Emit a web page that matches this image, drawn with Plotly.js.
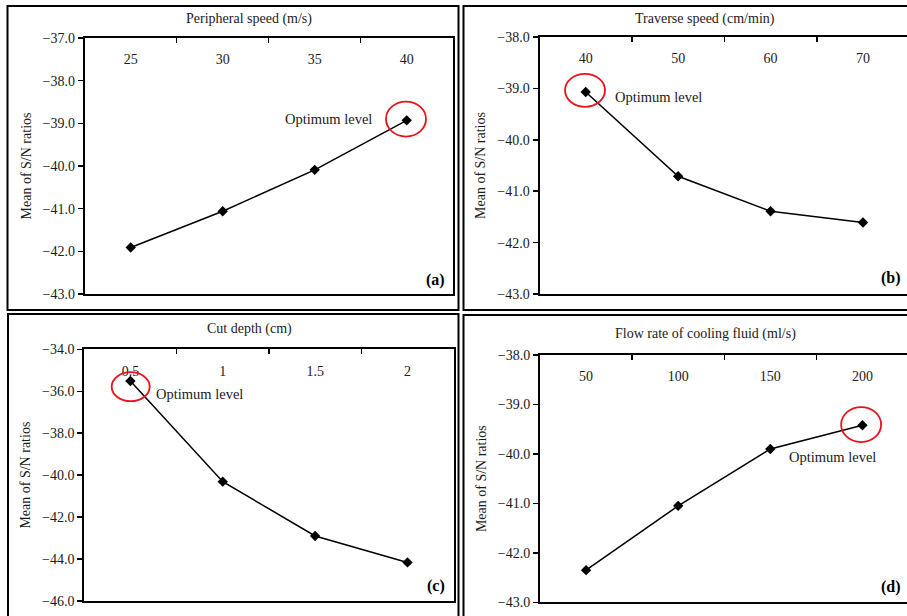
<!DOCTYPE html>
<html>
<head>
<meta charset="utf-8">
<script src="https://cdn.plot.ly/plotly-3.0.1.min.js"></script>
<style>
html, body { margin:0; padding:0; overflow:hidden; width:907px; height:616px; background:#fff; }
#chart { width:920px; height:630px; }
</style>
</head>
<body>
<div id="chart"></div>
<script>
// ---- data ----
const speedLevels = ['25', '30', '35', '40'];
const speedSN = [-41.91, -41.06, -40.09, -38.93];

const traverseLevels = ['40', '50', '60', '70'];
const traverseSN = [-39.07, -40.71, -41.39, -41.61];

const depthLevels = ['0.5', '1', '1.5', '2'];
const depthSN = [-35.51, -40.31, -42.90, -44.16];

const flowLevels = ['50', '100', '150', '200'];
const flowSN = [-42.35, -41.05, -39.90, -39.42];

const factorTitles = ['Peripheral speed (m/s)', 'Traverse speed (cm/min)', 'Cut depth (cm)', 'Flow rate of cooling fluid (ml/s)'];
const panelLabels = ['(a)', '(b)', '(c)', '(d)'];
const yTitle = 'Mean of S/N ratios';
const optimumText = 'Optimum level';

// ---- layout helpers ----
const W = 920, H = 630;
const PX = p => p / W;
const PY = p => 1 - p / H;
const FONT = 'Liberation Serif, Times New Roman, serif';
const TXT = '#1a1a1a';

const levels = [speedLevels, traverseLevels, depthLevels, flowLevels];
const values = [speedSN, traverseSN, depthSN, flowSN];
const optIdx = [3, 0, 0, 3];

const panels = [
  {x:[84.7, 452.7], y:[38, 294], yr:[-43, -37], dt:1, title:[248.5, 19], lab:[447, 280], opt:{x:374, y:119, xa:'right'}, circ:{dx:-0.7, dy:1.3, rx:20, ry:17.5}, frame:[7.5, 6, 458.5, 310]},
  {x:[539.5, 909.2], y:[37, 294], yr:[-43, -38], dt:1, title:[705, 19.3], lab:[903, 278], opt:{x:612.7, y:96.7, xa:'left'}, circ:{dx:-0.7, dy:1.7, rx:20, ry:16.5}, frame:[463.5, 6, 940, 310]},
  {x:[84.2, 453.7], y:[349.3, 601], yr:[-46, -34], dt:2, title:[249.5, 329.3], lab:[447, 586], opt:{x:154, y:394.3, xa:'left'}, circ:{dx:0.3, dy:-5.7, rx:19, ry:14.5}, frame:[8, 314, 458.5, 660]},
  {x:[540, 908.5], y:[355, 602.3], yr:[-43, -38], dt:1, title:[705.8, 334.3], lab:[903, 586.7], opt:{x:877.7, y:457.3, xa:'right'}, circ:{dx:-1.3, dy:0.7, rx:20, ry:17.5}, frame:[463.5, 315, 940, 660]}
];
const LABEL_DROP = 29; // px from top axis line down to the baseline axis of the category labels

const data = [];
const layout = {
  width: W, height: H,
  margin: {l:0, r:0, t:0, b:0},
  paper_bgcolor: '#fff', plot_bgcolor: '#fff',
  showlegend: false,
  font: {family: FONT, size: 14, color: TXT},
  annotations: [], shapes: []
};

panels.forEach((p, i) => {
  const n = i === 0 ? '' : String(i + 1);
  const xa = 'x' + n, ya = 'y' + n;
  const ln = String(i + 5), xl = 'x' + ln;
  data.push({
    type: 'scatter', mode: 'lines+markers',
    x: levels[i], y: values[i],
    xaxis: xa, yaxis: ya,
    line: {color: '#000', width: 1.5},
    marker: {symbol: 'diamond', size: 8, color: '#000'},
    hoverinfo: 'x+y'
  });
  // carrier (invisible) so the label axis gets the same categories
  data.push({
    type: 'scatter', mode: 'markers',
    x: levels[i], y: values[i],
    xaxis: xl, yaxis: ya,
    marker: {size: 1, opacity: 0},
    hoverinfo: 'skip'
  });
  // main category axis (top line, boundary ticks)
  layout['xaxis' + n] = {
    domain: [PX(p.x[0]), PX(p.x[1])], anchor: ya,
    type: 'category', categoryarray: levels[i], side: 'top', range: [-0.5, 3.5],
    showline: true, linewidth: 2, linecolor: '#000', mirror: true,
    ticks: 'inside', ticklen: 5, tickwidth: 1.5, tickcolor: '#000',
    tickson: 'boundaries', showticklabels: false,
    showgrid: false, zeroline: false, fixedrange: true
  };
  // label-only axis: category labels drawn just below the top line
  layout['xaxis' + ln] = {
    overlaying: xa, anchor: 'free', position: PY(p.y[0] + LABEL_DROP), side: 'top',
    type: 'category', categoryarray: levels[i], range: [-0.5, 3.5],
    showline: false, ticks: '', showgrid: false, zeroline: false,
    tickfont: {family: FONT, size: 14, color: TXT}, fixedrange: true
  };
  layout['yaxis' + n] = {
    domain: [PY(p.y[1]), PY(p.y[0])], anchor: xa,
    range: p.yr, tickmode: 'linear', tick0: p.yr[0], dtick: p.dt, tickformat: '.1f',
    showline: true, linewidth: 2, linecolor: '#000', mirror: true,
    ticks: 'outside', ticklen: 5, tickwidth: 1.5, tickcolor: '#000',
    showgrid: false, zeroline: false,
    tickfont: {family: FONT, size: 14, color: TXT},
    title: {text: yTitle, font: {family: FONT, size: 14, color: TXT}, standoff: 8},
    fixedrange: true
  };
  // factor title
  layout.annotations.push({xref:'paper', yref:'paper', x:PX(p.title[0]), y:PY(p.title[1]),
    xanchor:'center', yanchor:'middle', showarrow:false, text:factorTitles[i],
    font:{family:FONT, size:14, color:TXT}});
  // panel label
  layout.annotations.push({xref:'paper', yref:'paper', x:PX(p.lab[0]), y:PY(p.lab[1]),
    xanchor:'right', yanchor:'middle', showarrow:false, text:'<b>' + panelLabels[i] + '</b>',
    font:{family:FONT, size:16, color:'#000'}});
  // optimum text
  layout.annotations.push({xref:'paper', yref:'paper', x:PX(p.opt.x), y:PY(p.opt.y),
    xanchor:p.opt.xa, yanchor:'middle', showarrow:false, text:optimumText,
    font:{family:FONT, size:14.5, color:TXT}});
  // red circle around optimum point (category index as anchor)
  const k = optIdx[i];
  layout.shapes.push({type:'circle', xref:xa, yref:ya, xsizemode:'pixel', ysizemode:'pixel',
    xanchor: k, yanchor: values[i][k],
    x0: p.circ.dx - p.circ.rx, x1: p.circ.dx + p.circ.rx,
    y0: p.circ.dy - p.circ.ry, y1: p.circ.dy + p.circ.ry,
    line:{color:'#e8141c', width:1.8}});
  // panel frame
  layout.shapes.push({type:'rect', xref:'paper', yref:'paper',
    x0:PX(p.frame[0]), x1:PX(p.frame[2]), y0:PY(p.frame[3]), y1:PY(p.frame[1]),
    line:{color:'#000', width:2}, layer:'below'});
});

Plotly.newPlot('chart', data, layout, {displayModeBar:false, staticPlot:true});
</script>
</body>
</html>
